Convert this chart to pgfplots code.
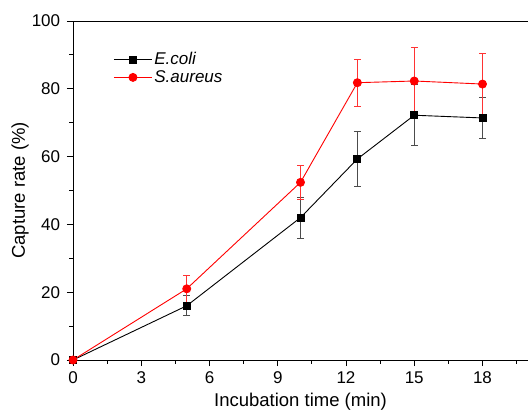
\documentclass[border=0pt]{standalone}
\usepackage{pgfplots}
\pgfplotsset{compat=1.18}
\usepackage{fontspec}
\setmainfont{Liberation Sans}

\begin{document}
\fontsize{17}{20}\selectfont
\begin{tikzpicture}
\begin{axis}[
    name=ax,
    scale only axis,
    width=455pt, height=339pt,
    xmin=0, xmax=20,
    ymin=0, ymax=100,
    xtick={0,3,...,18},
    minor xtick={1.5,4.5,...,19.5},
    ytick={0,20,...,100},
    minor ytick={10,30,...,90},
    tick align=outside,
    major tick length=6pt,
    minor tick length=3.5pt,
    tick style={black, line width=0.8pt},
    axis x line*=bottom,
    axis y line*=left,
    axis line style={line width=0.9pt, -},
    xlabel={Incubation time (min)},
    ylabel={Capture rate (\%)},
    xlabel style={at={(axis description cs:0.5,-0.124)}, anchor=center},
    ylabel style={at={(axis description cs:-0.1165,0.5)}, anchor=center},
    /pgf/number format/assume math mode=true,
    xticklabel style={yshift=0pt},
    yticklabel style={xshift=-1pt},
    tick label style={font=\fontsize{17}{20}\selectfont},
    label style={font=\fontsize{18.5}{22}\selectfont},
    legend style={draw=none, fill=none, at={(0.082,0.92)}, anchor=north west,
        font=\fontsize{17}{20}\selectfont\itshape, row sep=-1pt,
        /tikz/every even column/.append style={column sep=0pt}},
    legend cell align=left,
    legend image code/.code={
        \draw[mark repeat=2, mark phase=2] plot coordinates {(0pt,0pt) (19pt,0pt) (38pt,0pt)};
    },
    clip=false,
]
\draw[line width=0.9pt] (rel axis cs:0,1) -- (rel axis cs:1,1);

\addplot+[black, line width=0.9pt, mark=square*, mark size=3.5pt,
    mark options={fill=black, draw=black},
    error bars/.cd, y dir=both, y explicit,
    error bar style={black!70, line width=0.9pt},
    error mark options={rotate=90, mark size=3.5pt, black!70, line width=0.9pt}]
coordinates {
    (0,0) +- (0,0)
    (5,16) +- (0,3)
    (10,42) +- (0,6)
    (12.5,59.3) +- (0,8)
    (15,72.2) +- (0,9)
    (18,71.4) +- (0,6)
};
\addlegendentry{E.coli}

\addplot+[red, line width=0.9pt, mark=*, mark size=4pt,
    mark options={fill=red, draw=red},
    error bars/.cd, y dir=both, y explicit,
    error bar style={red!80, line width=0.8pt},
    error mark options={rotate=90, mark size=3.5pt, red!80, line width=0.8pt}]
coordinates {
    (0,0) +- (0,0)
    (5,21) +- (0,4)
    (10,52.4) +- (0,5)
    (12.5,81.8) +- (0,7)
    (15,82.3) +- (0,10)
    (18,81.4) +- (0,9)
};
\addlegendentry{S.aureus}
\end{axis}
\pgfresetboundingbox
\path ([xshift=-73pt,yshift=-50pt]ax.south west) rectangle ([yshift=21pt]ax.north east);
\end{tikzpicture}
\end{document}
